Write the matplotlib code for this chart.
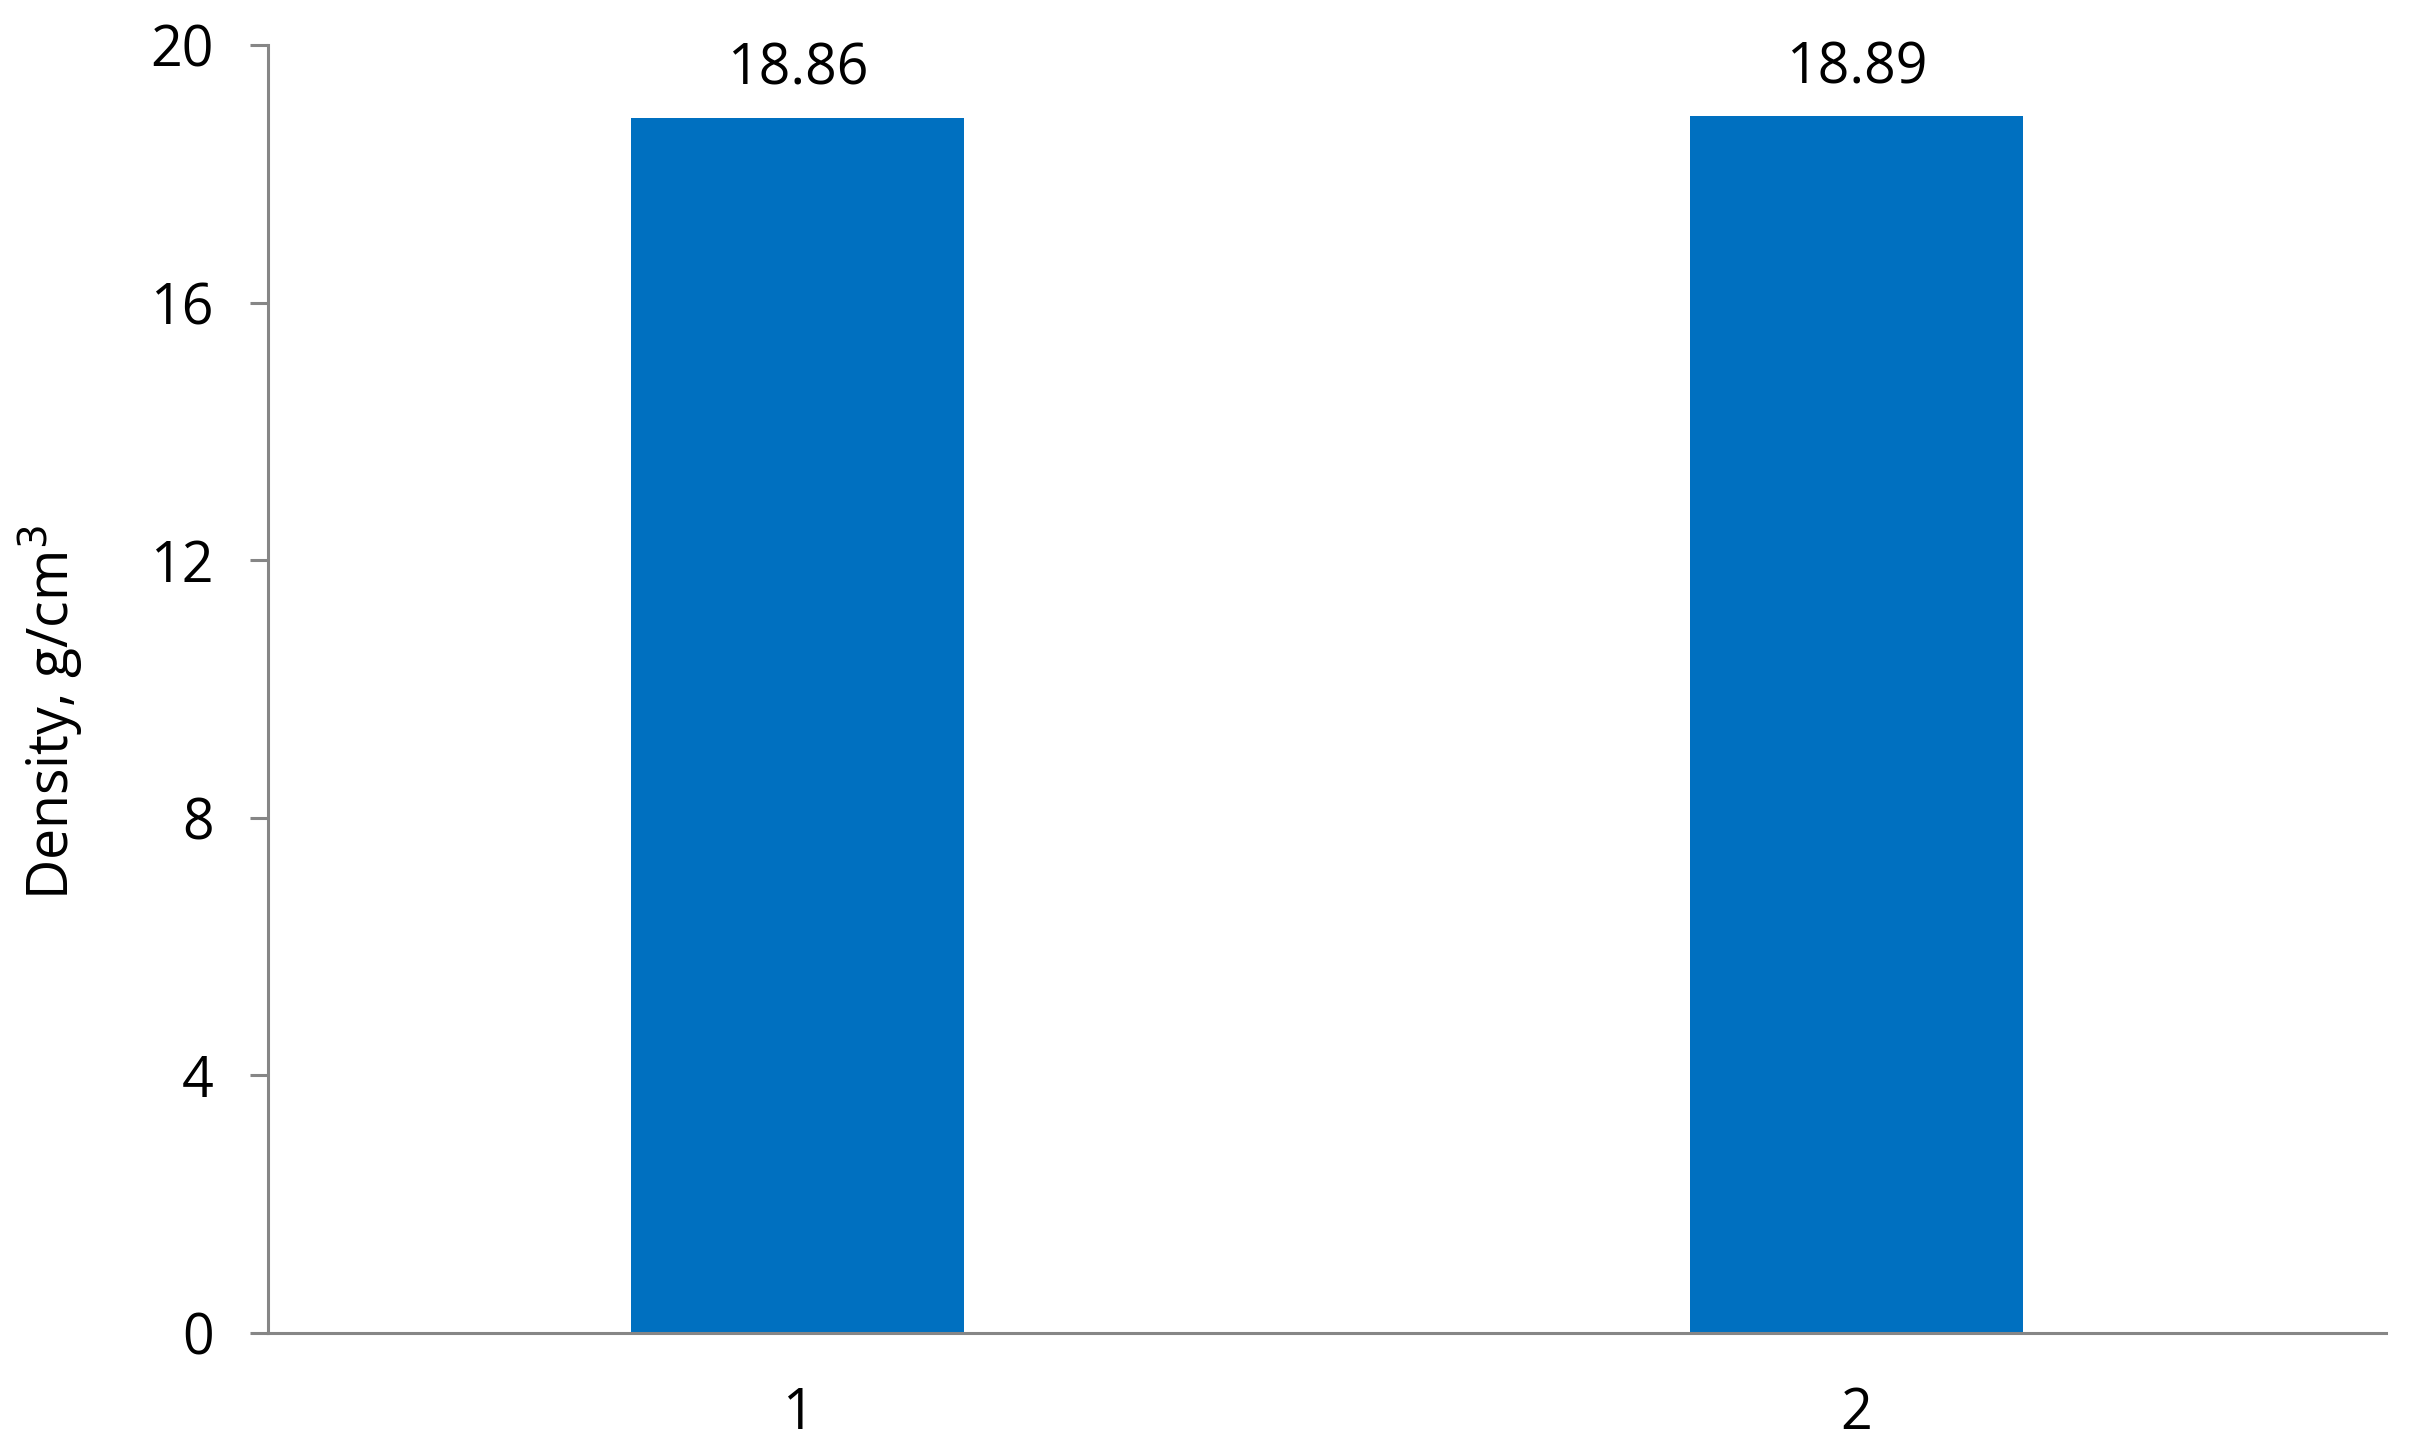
import matplotlib
matplotlib.use("Agg")
import matplotlib.pyplot as plt

# data
samples = [1, 2]
density = [18.86, 18.89]
value_labels = ["18.86", "18.89"]
yticks = [0, 4, 8, 12, 16, 20]

plt.rcParams['font.family'] = ['Open Sans', 'DejaVu Sans']

fig = plt.figure(figsize=(24.12, 14.52), dpi=100)
ax = fig.add_axes([0.1111, 0.0820, 0.8781, 0.8870])

bars = ax.bar(samples, density, width=0.314, color='#0070C0')
for b, lab in zip(bars, value_labels):
    ax.annotate(lab, (b.get_x() + b.get_width() / 2, b.get_height()),
                xytext=(0, 14), textcoords='offset points',
                ha='center', va='bottom', fontsize=40)

ax.set_xlim(0.5, 2.5)
ax.set_ylim(0, 20)
ax.set_yticks(yticks)
ax.set_xticks(samples)
ax.set_xticklabels([str(s) for s in samples])

for s in ['top', 'right']:
    ax.spines[s].set_visible(False)
for s in ['left', 'bottom']:
    ax.spines[s].set_color('#868686')
    ax.spines[s].set_linewidth(2.2)

ax.tick_params(axis='y', length=13, width=2.2, color='#868686',
               labelsize=40, pad=26)
ax.tick_params(axis='x', length=0, labelsize=40, pad=38)

ax.set_ylabel('Density, g/cm$^{3}$', fontsize=40)
# excel puts the title a little below the middle
ax.yaxis.set_label_coords(-0.086, 0.482)

fig.savefig('out.png', dpi=100)
